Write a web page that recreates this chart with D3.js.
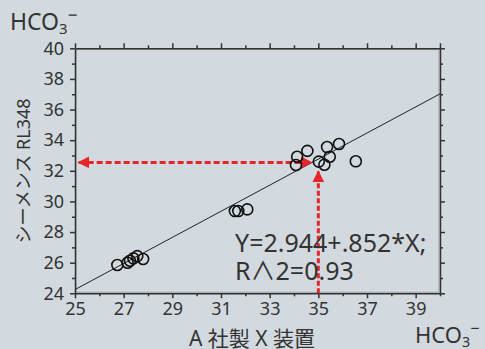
<!DOCTYPE html>
<html>
<head>
<meta charset="utf-8">
<script src="https://cdn.jsdelivr.net/npm/d3@7"></script>
<style>
  html, body { margin: 0; padding: 0; background: #d2dadf; }
  svg { display: block; }
  text { font-family: "Noto Sans", "Noto Sans CJK JP", sans-serif; fill: #333; }
</style>
</head>
<body>
<svg id="chart" width="485" height="349"></svg>
<script>
// Measurements: A社製X装置 (x) vs シーメンス RL348 (y), HCO3-
const xValues = [26.74, 27.16, 27.26, 27.40, 27.56, 27.80,
                 31.57, 31.71, 32.08,
                 34.08, 34.13, 34.55, 35.02, 35.25, 35.36, 35.47, 35.85, 36.54];
const yValues = [25.85, 26.00, 26.13, 26.28, 26.43, 26.24,
                 29.37, 29.37, 29.48,
                 32.38, 32.92, 33.30, 32.60, 32.40, 33.55, 32.92, 33.75, 32.62];

// Regression: Y = 2.944 + .852 * X
const intercept = 2.944;
const slope = 0.852;
const fitLabel = ["Y=2.944+.852*X;", "R\u22272=0.93"];

const xDomain = [25, 40];
const yDomain = [24, 40];
const xMajorTicks = [25, 27, 29, 31, 33, 35, 37, 39];
const xMinorTicks = [26, 28, 30, 32, 34, 36, 38, 40];
const yMajorTicks = [24, 26, 28, 30, 32, 34, 36, 38, 40];
const yMinorTicks = [25, 27, 29, 31, 33, 35, 37, 39];

// Read-off example: x = 35 -> y ≈ 32.55
const readX = 35;
const readY = 32.55;

const svg = d3.select("#chart");
const plotL = 75, plotR = 440, plotT = 48.3, plotB = 293.3;

const x = d3.scaleLinear().domain(xDomain).range([plotL, plotR]);
const y = d3.scaleLinear().domain(yDomain).range([plotB, plotT]);

const axisColor = "#333";

// frame shading lines just inside the plot border
svg.append("rect")
  .attr("x", plotL + 1).attr("y", plotT + 1)
  .attr("width", plotR - plotL - 2).attr("height", plotB - plotT - 2)
  .attr("fill", "none").attr("stroke", "#9aa0a4").attr("stroke-width", 1);

function styleAxis(g) {
  g.selectAll(".domain").attr("stroke", axisColor).attr("stroke-width", 1.5);
  g.selectAll(".tick line").attr("stroke", axisColor).attr("stroke-width", 1.5);
}

// bottom axis with labels
const gx = svg.append("g").attr("transform", `translate(0,${plotB})`)
  .call(d3.axisBottom(x).tickValues(xMajorTicks).tickSize(5).tickSizeOuter(0).tickPadding(4).tickFormat(d3.format("d")));
styleAxis(gx);
gx.selectAll("text").attr("font-size", 18).attr("fill", "#333");
svg.append("g").attr("transform", `translate(0,${plotB})`)
  .call(d3.axisBottom(x).tickValues(xMinorTicks).tickSize(3).tickFormat(""))
  .call(g => g.select(".domain").remove())
  .call(styleAxis);

// top axis
const gxt = svg.append("g").attr("transform", `translate(0,${plotT})`)
  .call(d3.axisTop(x).tickValues(xMajorTicks.concat([40])).tickSize(5).tickSizeOuter(0).tickFormat(""));
styleAxis(gxt);
svg.append("g").attr("transform", `translate(0,${plotT})`)
  .call(d3.axisTop(x).tickValues(xMinorTicks.slice(0, -1)).tickSize(3).tickFormat(""))
  .call(g => g.select(".domain").remove())
  .call(styleAxis);

// left axis with labels
const gy = svg.append("g").attr("transform", `translate(${plotL},0)`)
  .call(d3.axisLeft(y).tickValues(yMajorTicks).tickSize(5).tickSizeOuter(0).tickPadding(6).tickFormat(d3.format("d")));
styleAxis(gy);
gy.selectAll("text").attr("font-size", 18).attr("fill", "#333");
svg.append("g").attr("transform", `translate(${plotL},0)`)
  .call(d3.axisLeft(y).tickValues(yMinorTicks).tickSize(3).tickFormat(""))
  .call(g => g.select(".domain").remove())
  .call(styleAxis);

// right axis
const gyr = svg.append("g").attr("transform", `translate(${plotR},0)`)
  .call(d3.axisRight(y).tickValues(yMajorTicks).tickSize(5).tickSizeOuter(0).tickFormat(""));
styleAxis(gyr);
svg.append("g").attr("transform", `translate(${plotR},0)`)
  .call(d3.axisRight(y).tickValues(yMinorTicks).tickSize(3).tickFormat(""))
  .call(g => g.select(".domain").remove())
  .call(styleAxis);

// regression line across the x range
svg.append("line")
  .attr("x1", x(xDomain[0])).attr("y1", y(intercept + slope * xDomain[0]))
  .attr("x2", x(xDomain[1])).attr("y2", y(intercept + slope * xDomain[1]))
  .attr("stroke", "#222").attr("stroke-width", 1);

// red dashed read-off arrows
const red = "#e5252a";
const defs = svg.append("defs");
defs.append("marker")
  .attr("id", "arrow").attr("viewBox", "0 0 10 10")
  .attr("refX", 9).attr("refY", 5)
  .attr("markerWidth", 4).attr("markerHeight", 4)
  .attr("markerUnits", "strokeWidth")
  .attr("orient", "auto-start-reverse")
  .append("path").attr("d", "M0,0L10,5L0,10Z").attr("fill", red);

// horizontal: double headed, from the fit point to the y axis
svg.append("line")
  .attr("x1", x(25.15)).attr("y1", y(readY))
  .attr("x2", x(34.72)).attr("y2", y(readY))
  .attr("stroke", red).attr("stroke-width", 3)
  .attr("stroke-dasharray", "6,3")
  .attr("marker-start", "url(#arrow)")
  .attr("marker-end", "url(#arrow)");

// vertical: from the x axis up towards the fit line
svg.append("line")
  .attr("x1", x(readX)).attr("y1", y(24))
  .attr("x2", x(readX)).attr("y2", y(31.95))
  .attr("stroke", red).attr("stroke-width", 3)
  .attr("stroke-dasharray", "5,2.5")
  .attr("marker-end", "url(#arrow)");

// data points (open circles)
svg.append("g").selectAll("circle")
  .data(xValues.map((v, i) => [v, yValues[i]]))
  .join("circle")
  .attr("cx", d => x(d[0])).attr("cy", d => y(d[1]))
  .attr("r", 5.5)
  .attr("fill", "none").attr("stroke", "#111").attr("stroke-width", 1.6);

// regression text
svg.append("text").attr("x", 235).attr("y", 251.5)
  .attr("font-size", 25).text(fitLabel[0]);
svg.append("text").attr("x", 235).attr("y", 280)
  .attr("font-size", 25).text(fitLabel[1]);

// unit labels HCO3-
function hco3(xp, yp, size) {
  const t = svg.append("text").attr("x", xp).attr("y", yp).attr("font-size", size);
  t.append("tspan").text("HCO");
  t.append("tspan").attr("font-size", size * 0.65).attr("dy", 4).text("3");
  t.append("tspan").attr("font-size", size * 0.74).attr("dy", -13).text("\u2212");
}
hco3(10, 30, 23);
hco3(415, 343, 22);

// axis titles
svg.append("text")
  .attr("x", 252).attr("y", 345.5)
  .attr("text-anchor", "middle").attr("font-size", 21)
  .text("A 社製 X 装置");

svg.append("text")
  .attr("transform", "translate(30,171) rotate(-90)")
  .attr("text-anchor", "middle").attr("font-size", 18)
  .text("シーメンス RL348");
</script>
</body>
</html>
